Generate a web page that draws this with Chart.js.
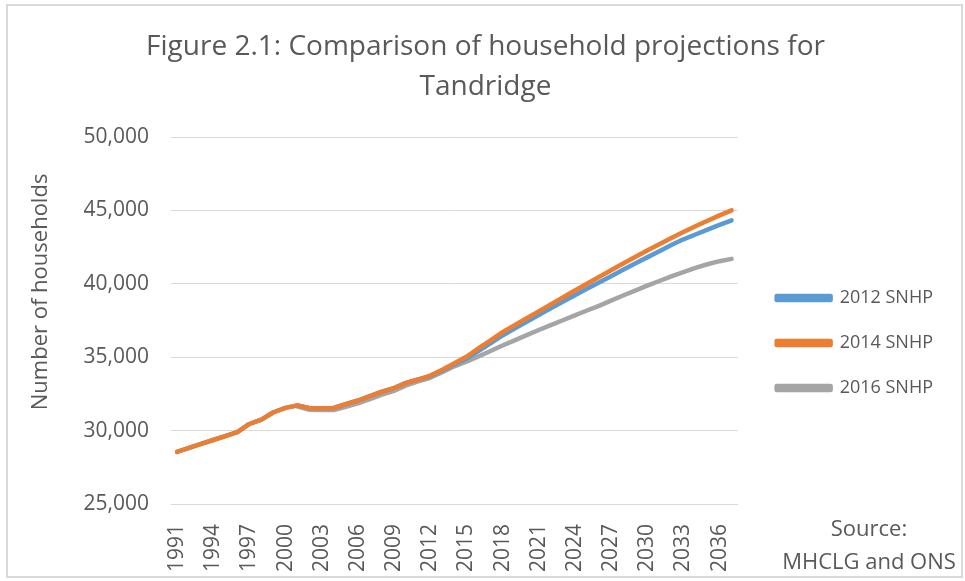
<!DOCTYPE html>
<html lang="en">
<head>
    <meta charset="UTF-8">
    <title>Figure 2.1: Comparison of household projections for Tandridge</title>
    <script src="https://cdn.jsdelivr.net/npm/chart.js"></script>
    <style>
        html, body { margin: 0; padding: 0; background: #fff; }
        #wrap { position: relative; width: 965px; height: 581px; }
        #frame {
            position: absolute; left: 6px; top: 4px; width: 957px; height: 574px;
            box-sizing: border-box; border: 2px solid #d9d9d9; pointer-events: none;
        }
    </style>
</head>
<body>
<div id="wrap">
    <canvas id="households-chart" width="965" height="581"></canvas>
    <div id="frame"></div>
</div>

<script>
    // Data
    const years = [];
    for (let y = 1991; y <= 2037; y++) years.push(String(y));

    const snhp2012 = [
        28550, 28820, 29090, 29360, 29630, 29900, 30450, 30750, 31250, 31550,
        31720, 31530, 31520, 31540, 31800, 32050, 32350, 32650, 32900, 33250,
        33480, 33700, 34100, 34500, 34900, 35420, 35950, 36480, 36950, 37420,
        37880, 38340, 38780, 39220, 39660, 40090, 40520, 40950, 41380, 41800,
        42210, 42640, 43030, 43360, 43690, 44010, 44320
    ];
    const snhp2014 = [
        28550, 28820, 29090, 29360, 29630, 29900, 30450, 30750, 31250, 31550,
        31720, 31530, 31520, 31540, 31800, 32050, 32350, 32650, 32900, 33250,
        33480, 33750, 34150, 34580, 35030, 35600, 36150, 36700, 37180, 37650,
        38120, 38600, 39070, 39540, 40000, 40460, 40920, 41380, 41830, 42270,
        42700, 43120, 43530, 43920, 44300, 44660, 45000
    ];
    const snhp2016 = [
        null, null, null, null, null, null, null, null, null, null,
        31640, 31420, 31400, 31400, 31620, 31850, 32150, 32450, 32700, 33080,
        33350, 33600, 33980, 34380, 34700, 35050, 35420, 35800, 36150, 36500,
        36850, 37180, 37520, 37850, 38180, 38500, 38850, 39200, 39540, 39870,
        40190, 40500, 40800, 41080, 41330, 41540, 41700
    ];
    const seriesNames = ['2012 SNHP', '2014 SNHP', '2016 SNHP'];
    const seriesColors = ['#5B9BD5', '#ED7D31', '#A5A5A5'];

    const FONT = "'Open Sans', 'Noto Sans', sans-serif";
    const TEXT = '#595959';

    // Source note in the bottom right corner
    const sourceNote = {
        id: 'sourceNote',
        afterDraw(chart) {
            const ctx = chart.ctx;
            ctx.save();
            ctx.fillStyle = TEXT;
            ctx.font = '22px ' + FONT;
            ctx.textAlign = 'center';
            ctx.textBaseline = 'middle';
            ctx.fillText('Source:', 869, 530);
            ctx.fillText('MHCLG and ONS', 869, 563);
            ctx.restore();
        }
    };

    const ctx = document.getElementById('households-chart').getContext('2d');
    const householdsChart = new Chart(ctx, {
        type: 'line',
        data: {
            labels: years,
            datasets: [snhp2012, snhp2014, snhp2016].map((values, i) => ({
                label: seriesNames[i],
                data: values,
                borderColor: seriesColors[i],
                backgroundColor: seriesColors[i],
                borderWidth: 4.5,
                borderCapStyle: 'round',
                borderJoinStyle: 'round',
                pointRadius: 0,
                tension: 0,
                fill: false,
                order: [2, 1, 3][i]
            }))
        },
        options: {
            responsive: false,
            animation: false,
            layout: { padding: { left: 28, right: 22, bottom: 0, top: 0 } },
            plugins: {
                title: {
                    display: true,
                    text: ['Figure 2.1: Comparison of household projections for', 'Tandridge'],
                    color: TEXT,
                    font: { family: FONT, size: 28, weight: 'normal', lineHeight: 40 / 28 },
                    padding: { top: 27, bottom: 30 }
                },
                legend: {
                    position: 'right',
                    maxWidth: 230,
                    // empty title only pushes the items down to where they sit in the original
                    title: { display: true, text: '', font: { size: 10, lineHeight: 1 }, padding: { top: 95, bottom: 0 } },
                    labels: {
                        color: TEXT,
                        font: { family: FONT, size: 18 },
                        boxWidth: 54,
                        boxHeight: 4,
                        padding: 27,
                        sort: (a, b) => a.datasetIndex - b.datasetIndex
                    }
                },
                tooltip: { enabled: false }
            },
            scales: {
                x: {
                    offset: true,
                    grid: { display: false, drawTicks: false },
                    border: { display: true, color: '#d9d9d9', width: 1 },
                    ticks: {
                        autoSkip: false,
                        minRotation: 90,
                        maxRotation: 90,
                        padding: 20,
                        color: TEXT,
                        font: { family: FONT, size: 21 },
                        callback: function (value, index) {
                            return index % 3 === 0 ? this.getLabelForValue(value) : '';
                        }
                    },
                    afterFit: scale => { scale.height = 77; }
                },
                y: {
                    min: 25000,
                    max: 50000,
                    grid: { color: '#d9d9d9', drawTicks: false },
                    border: { display: false },
                    ticks: {
                        stepSize: 5000,
                        padding: 22,
                        color: TEXT,
                        font: { family: FONT, size: 21 },
                        callback: v => v.toLocaleString('en-US')
                    },
                    title: {
                        display: true,
                        text: '          Number of households',
                        color: TEXT,
                        font: { family: FONT, size: 22 },
                        padding: { top: 0, bottom: 17 }
                    },
                    afterFit: scale => { scale.width = 143; }
                },
                gap: {
                    type: 'linear',
                    position: 'right',
                    display: true,
                    grid: { display: false },
                    border: { display: false },
                    ticks: { display: false },
                    afterFit: scale => { scale.width = 12; }
                }
            }
        },
        plugins: [sourceNote]
    });
</script>
</body>
</html>
